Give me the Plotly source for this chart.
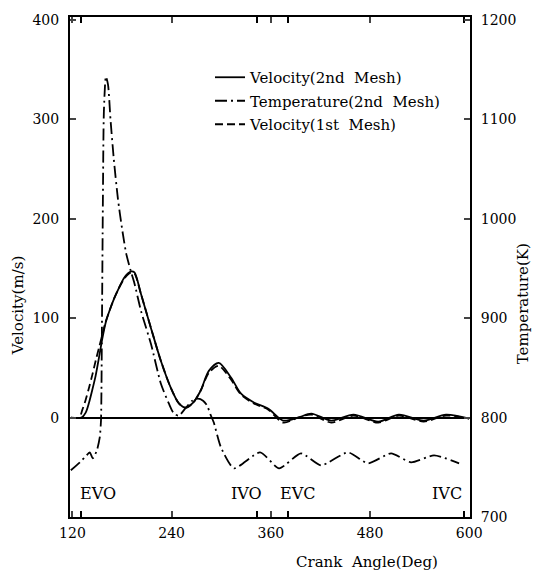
import plotly.graph_objects as go

# ---------------- data ----------------
vel2_deg = [118, 131, 136, 140, 144, 148, 152, 156, 160, 165, 170, 176, 182, 187, 191, 195,
            203, 215, 227, 239, 249, 257, 266, 275, 285, 297, 312, 324, 340, 357, 375,
            393, 409, 433, 460, 490, 515, 545, 572, 600]
vel2_val = [0, 0, 5, 15, 28, 42, 60, 79, 95, 108, 119, 130, 140, 145, 147, 146,
            124, 90, 57, 30, 14, 10, 15, 27, 47, 55, 40, 24, 15, 9, -3,
            0, 4, -3, 3, -4, 3, -3, 3, -1]

vel1_deg = [118, 128, 132, 136, 140, 144, 148, 152, 156, 160, 165, 170, 176, 182, 187, 191, 195,
            203, 215, 227, 239, 249, 257, 266, 275, 285, 297, 312, 324, 340, 357, 375,
            393, 409, 433, 460, 490, 515, 545, 572, 600]
vel1_val = [0, 0, 8, 18, 30, 43, 57, 70, 83, 96, 108, 119, 130, 139, 144, 146, 145,
            124, 90, 57, 30, 14, 10, 15, 27, 45, 52, 38, 23, 14, 8, -5,
            0, 3, -5, 2, -5, 2, -4, 2, -1]

temp_deg = [118, 129, 137, 141, 144.5, 149.5, 153, 154.5, 155.6, 156.8, 158, 160.4, 163,
            166, 170, 175, 180, 185, 190.7, 195, 203, 215, 227, 236.7, 242.8, 248.8,
            257.3, 265, 271.8, 278, 283, 287, 291, 299.7, 315.4, 347, 370, 396.5, 420.7,
            453.4, 477.6, 505.5, 529.7, 557.5, 587.8]
temp_K = [747, 755, 762, 765, 759, 767, 780, 797, 887, 1018, 1108, 1143, 1135,
          1100, 1060, 1020, 990, 965, 947, 935, 907, 874, 834, 814, 804, 802,
          810, 817, 819, 817, 812, 803, 795, 770, 749, 765, 749, 764, 752,
          765, 754, 764, 755, 762, 754]

x_ticks = [120, 240, 360, 480, 600]
event_deg = [130, 343, 381, 594]
event_lbl_deg = [151, 331, 392, 573]
event_lbl = ["EVO", "IVO", "EVC", "IVC"]
vel_ticks = [0, 100, 200, 300, 400]
temp_ticks = [700, 800, 900, 1000, 1100, 1200]

FONT = "DejaVu Serif"
NB = "\u00a0"

fig = go.Figure()
fig.add_trace(go.Scatter(x=vel2_deg, y=vel2_val, mode="lines", name="Velocity(2nd" + NB * 2 + "Mesh)",
                         legendgroup="a", line=dict(color="black", width=1.8, shape="spline", smoothing=0.8)))
fig.add_trace(go.Scatter(x=temp_deg, y=temp_K, mode="lines", name="Temperature(2nd" + NB * 2 + "Mesh)",
                         legendgroup="b", yaxis="y2",
                         line=dict(color="black", width=1.8, dash="12px,4px,2px,4px",
                                   shape="spline", smoothing=0.6)))
fig.add_trace(go.Scatter(x=vel1_deg, y=vel1_val, mode="lines", name="Velocity(1st" + NB * 2 + "Mesh)",
                         legendgroup="c", line=dict(color="black", width=1.8, dash="8px,4px",
                                                    shape="spline", smoothing=0.8)))

fig.update_layout(
    width=541, height=570,
    margin=dict(l=70, r=71, t=14, b=53),
    paper_bgcolor="white", plot_bgcolor="white",
    showlegend=True,
    legend=dict(x=0.35, y=0.912, xanchor="left", yanchor="top", bgcolor="rgba(0,0,0,0)",
                font=dict(family=FONT, size=15, color="black"), tracegroupgap=1,
                traceorder="grouped"),
    xaxis=dict(range=[117, 601], tickvals=x_ticks, ticks="inside", ticklen=6, tickwidth=1.5,
               showline=True, linecolor="black", linewidth=2, mirror="ticks", showgrid=False,
               zeroline=False, tickfont=dict(family=FONT, size=14, color="black"),
               ticklabelstandoff=2,
               minor=dict(tickvals=event_deg, ticks="inside", ticklen=6, tickwidth=1.5,
                          tickcolor="black", showgrid=False),
               title=None),
    yaxis=dict(range=[-100, 403], tickvals=vel_ticks, ticks="inside", ticklen=6, tickwidth=1.5,
               showline=True, linecolor="black", linewidth=2, showgrid=False,
               zeroline=True, zerolinecolor="black", zerolinewidth=1.8,
               tickfont=dict(family=FONT, size=14, color="black"), ticklabelstandoff=6),
    yaxis2=dict(range=[700, 1203], tickvals=temp_ticks, ticks="inside", ticklen=6, tickwidth=1.5,
                overlaying="y", side="right", showline=True, linecolor="black", linewidth=2,
                showgrid=False, zeroline=False,
                tickfont=dict(family=FONT, size=14, color="black"), ticklabelstandoff=6),
)

for d, t in zip(event_lbl_deg, event_lbl):
    fig.add_annotation(x=d, y=-76, xref="x", yref="y", text=t, showarrow=False,
                       font=dict(family=FONT, size=16, color="black"))
# paper coords: plot area x 70..470, y 14..517
fig.add_annotation(x=(18 - 70) / 400, y=(517 - 304) / 503, xref="paper", yref="paper",
                   xanchor="center", yanchor="middle",
                   text="Velocity(m/s)", showarrow=False, textangle=-90,
                   font=dict(family=FONT, size=15, color="black"))
fig.add_annotation(x=(523 - 70) / 400, y=(517 - 303) / 503, xref="paper", yref="paper",
                   xanchor="center", yanchor="middle",
                   text="Temperature(K)", showarrow=False, textangle=-90,
                   font=dict(family=FONT, size=15, color="black"))
fig.add_annotation(x=(367 - 70) / 400, y=(517 - 562) / 503, xref="paper", yref="paper",
                   xanchor="center", yanchor="middle",
                   text="Crank" + NB * 2 + "Angle(Deg)", showarrow=False,
                   font=dict(family=FONT, size=15, color="black"))

fig.write_html("out.html")
